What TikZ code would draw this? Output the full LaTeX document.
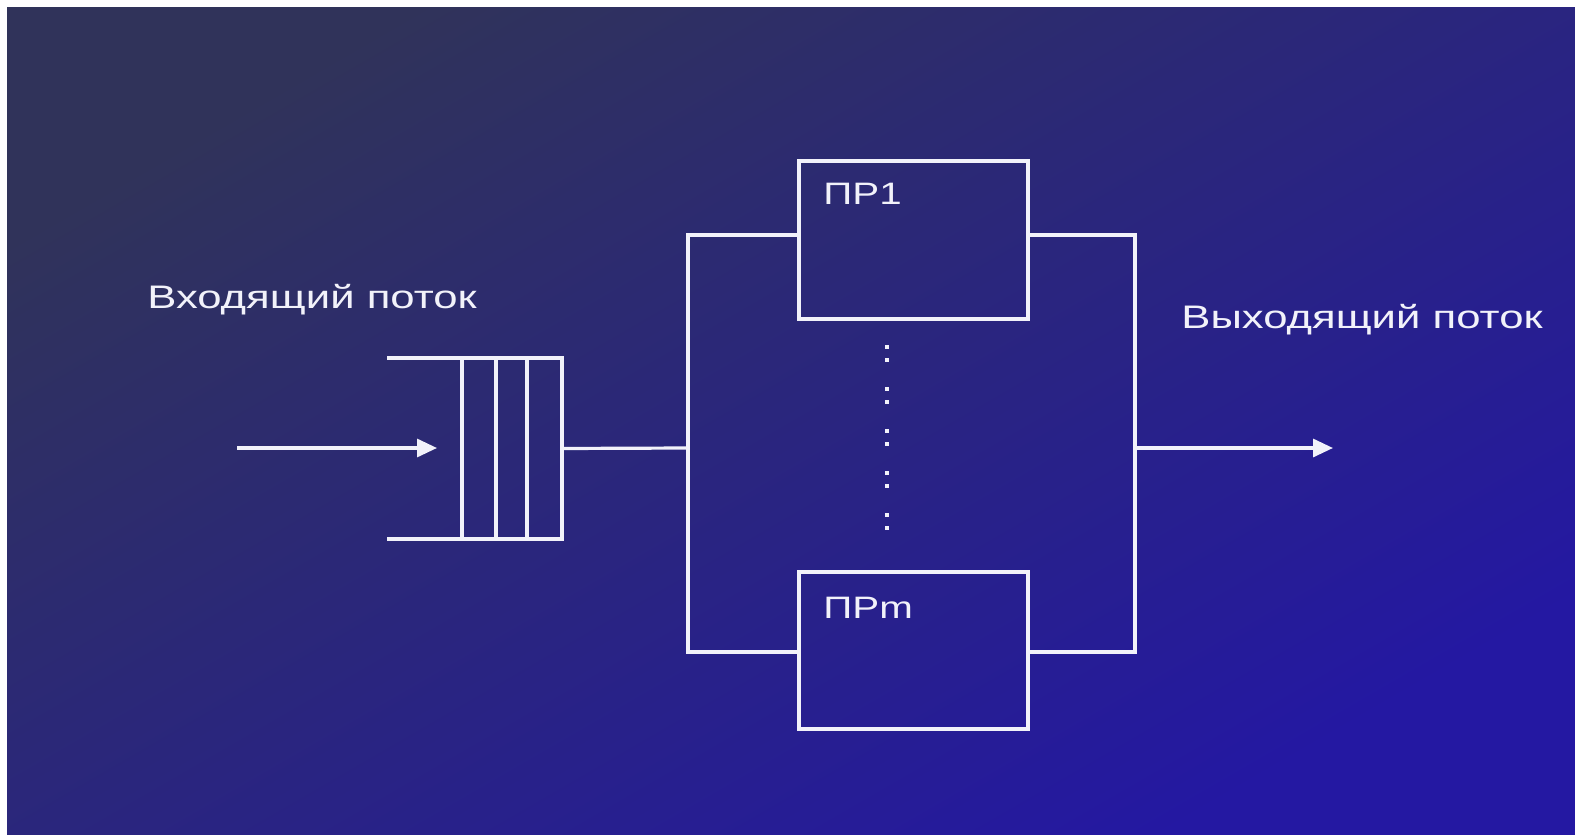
\documentclass[tikz,border=0pt]{standalone}
\usepackage{fontspec}
\setmainfont{Liberation Sans}
\newfontfamily\labfont[FakeStretch=1.34]{Liberation Sans}
\newfontfamily\boxfont[FakeStretch=1.3]{Liberation Sans}
\usetikzlibrary{arrows.meta}
\definecolor{bgA}{HTML}{30335A}
\definecolor{bgM}{HTML}{2B2882}
\definecolor{bgB}{HTML}{2418A2}
\definecolor{ink}{HTML}{F2F2FA}
\begin{document}
\begin{tikzpicture}[x=0.5pt,y=-0.5pt,
  wire/.style={draw=ink,line width=1.6pt},
  flow/.style={wire,-{Triangle[length=10pt,width=9pt]}},
  procbox/.style={draw=ink,line width=1.6pt,inner sep=0pt,outer sep=0pt,minimum width=114.5pt,minimum height=79pt},
  qbox/.style={draw=ink,line width=1.6pt,inner sep=0pt,outer sep=0pt,minimum width=50pt,minimum height=90.5pt},
  lab/.style={text=ink,font=\labfont\fontsize{16.3pt}{18pt}\selectfont,inner sep=0pt,anchor=base west},
  blab/.style={text=ink,font=\boxfont\fontsize{15.5pt}{18pt}\selectfont,inner sep=0pt,anchor=base west}]
\useasboundingbox (0,0) rectangle (1575,835);
\fill[white] (0,0) rectangle (1575,835);
\shade[shading=axis,top color=bgA,middle color=bgM,bottom color=bgB,shading angle=30] (7,7) rectangle (1575,835);

% labels
\node[lab] (inlab) at (147,308) {Входящий поток};
\node[lab] (outlab) at (1181,328) {Выходящий поток};

% queue
\node[qbox] (q) at (512,448.5) {};
\coordinate (qt) at (387,358);
\coordinate (qb) at (387,539);
\draw[wire] (qt) -- (q.north west);
\draw[wire] (qb) -- (q.south west);
\draw[wire] (496,358) -- (496,539);
\draw[wire] (527,358) -- (527,539);

% input arrow
\coordinate (src) at (237,448);
\coordinate (srcend) at (437,448);
\draw[flow] (src) -- (srcend);

% processors
\node[procbox] (pr1) at (913.5,240) {};
\node[procbox,minimum height=78.5pt] (prm) at (913.5,650.5) {};
\node[blab] (pr1t) at (823,204) {ПР1};
\node[blab] (prmt) at (823,618) {ПРm};

% buses
\coordinate (bl) at (688,448);
\coordinate (blt) at (688,235);
\coordinate (blb) at (688,652);
\coordinate (br) at (1135,448);
\coordinate (brt) at (1135,235);
\coordinate (brb) at (1135,652);
\draw[wire] (q.east) -- (bl);
\draw[wire,line cap=rect] (blt) -- (blb);
\draw[wire,line cap=rect] (brt) -- (brb);
\draw[wire] (blt) -- (blt -| pr1.west);
\draw[wire] (blb) -- (blb -| prm.west);
\draw[wire] (pr1.east |- brt) -- (brt);
\draw[wire] (prm.east |- brb) -- (brb);

% output arrow
\coordinate (sink) at (1333,448);
\draw[flow] (br) -- (sink);

% dots
\draw[draw=ink,line width=2pt,dash pattern=on 2pt off 4.5pt on 2pt off 12.5pt] (887,345) -- (887,531);
\end{tikzpicture}
\end{document}
